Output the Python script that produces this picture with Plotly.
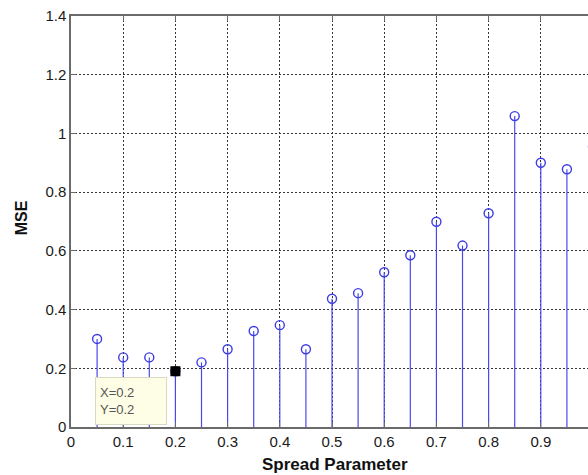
import plotly.graph_objects as go

# Data
spread = [0.05, 0.10, 0.15, 0.20, 0.25, 0.30, 0.35, 0.40, 0.45, 0.50,
          0.55, 0.60, 0.65, 0.70, 0.75, 0.80, 0.85, 0.90, 0.95, 1.00]
mse = [0.300, 0.237, 0.237, 0.190, 0.220, 0.265, 0.327, 0.347, 0.265, 0.437,
       0.456, 0.527, 0.585, 0.699, 0.618, 0.728, 1.059, 0.900, 0.878, 0.955]
xtick_vals = [0, 0.1, 0.2, 0.3, 0.4, 0.5, 0.6, 0.7, 0.8, 0.9]
xtick_text = ["0", "0.1", "0.2", "0.3", "0.4", "0.5", "0.6", "0.7", "0.8", "0.9"]
ytick_vals = [0, 0.2, 0.4, 0.6, 0.8, 1.0, 1.2, 1.4]
ytick_text = ["0", "0.2", "0.4", "0.6", "0.8", "1", "1.2", "1.4"]
tip_index = 3

FONT = "Liberation Sans, Arial, Helvetica, sans-serif"

stem_x, stem_y = [], []
for xv, yv in zip(spread, mse):
    stem_x += [xv, xv, None]
    stem_y += [0, yv, None]

fig = go.Figure()
fig.add_trace(go.Scatter(x=stem_x, y=stem_y, mode="lines",
                         line=dict(color="#4a4aec", width=1.2),
                         hoverinfo="skip", showlegend=False))
fig.add_trace(go.Scatter(x=spread, y=mse, mode="markers",
                         marker=dict(symbol="circle-open", size=9,
                                     color="#3c3ce6", line=dict(width=1.4, color="#3c3ce6")),
                         showlegend=False))
fig.add_trace(go.Scatter(x=[spread[tip_index]], y=[mse[tip_index]], mode="markers",
                         marker=dict(symbol="square", size=10, color="black",
                                     line=dict(width=0)),
                         showlegend=False))

fig.add_annotation(x=spread[tip_index], y=mse[tip_index], xref="x", yref="y",
                   text="X=0.2<br>Y=0.2", showarrow=False,
                   xanchor="right", yanchor="top", xshift=-8, yshift=-6,
                   align="left", width=62, height=38, borderpad=4,
                   bgcolor="#fefee6", bordercolor="#d8d8c4", borderwidth=1,
                   font=dict(family=FONT, size=13, color="#555555"))

fig.add_annotation(x=0.511, y=-0.092, xref="paper", yref="paper",
                   text="<b>Spread Parameter</b>", showarrow=False,
                   xanchor="center", yanchor="middle",
                   font=dict(family=FONT, size=17, color="#111111"))
fig.add_annotation(x=-0.095, y=0.51, xref="paper", yref="paper",
                   text="<b>MSE</b>", showarrow=False, textangle=-90,
                   xanchor="center", yanchor="middle",
                   font=dict(family=FONT, size=16, color="#111111"))

axis_common = dict(showgrid=True, gridcolor="#333333", gridwidth=1, griddash="2px,2px",
                   zeroline=False, showline=True, linecolor="#6a6a6a", linewidth=1.5,
                   ticks="inside", ticklen=5, tickcolor="#6a6a6a",
                   tickfont=dict(family=FONT, size=15, color="#1a1a1a"))

fig.update_xaxes(range=[0, 0.9904], tickvals=xtick_vals, ticktext=xtick_text,
                 mirror="ticks", **axis_common)
fig.update_yaxes(range=[0, 1.4], tickvals=ytick_vals, ticktext=ytick_text,
                 mirror=False, **axis_common)

fig.update_layout(width=588, height=475,
                  margin=dict(l=71, r=0, t=16, b=48),
                  plot_bgcolor="white", paper_bgcolor="white")

fig.write_html("out.html")
